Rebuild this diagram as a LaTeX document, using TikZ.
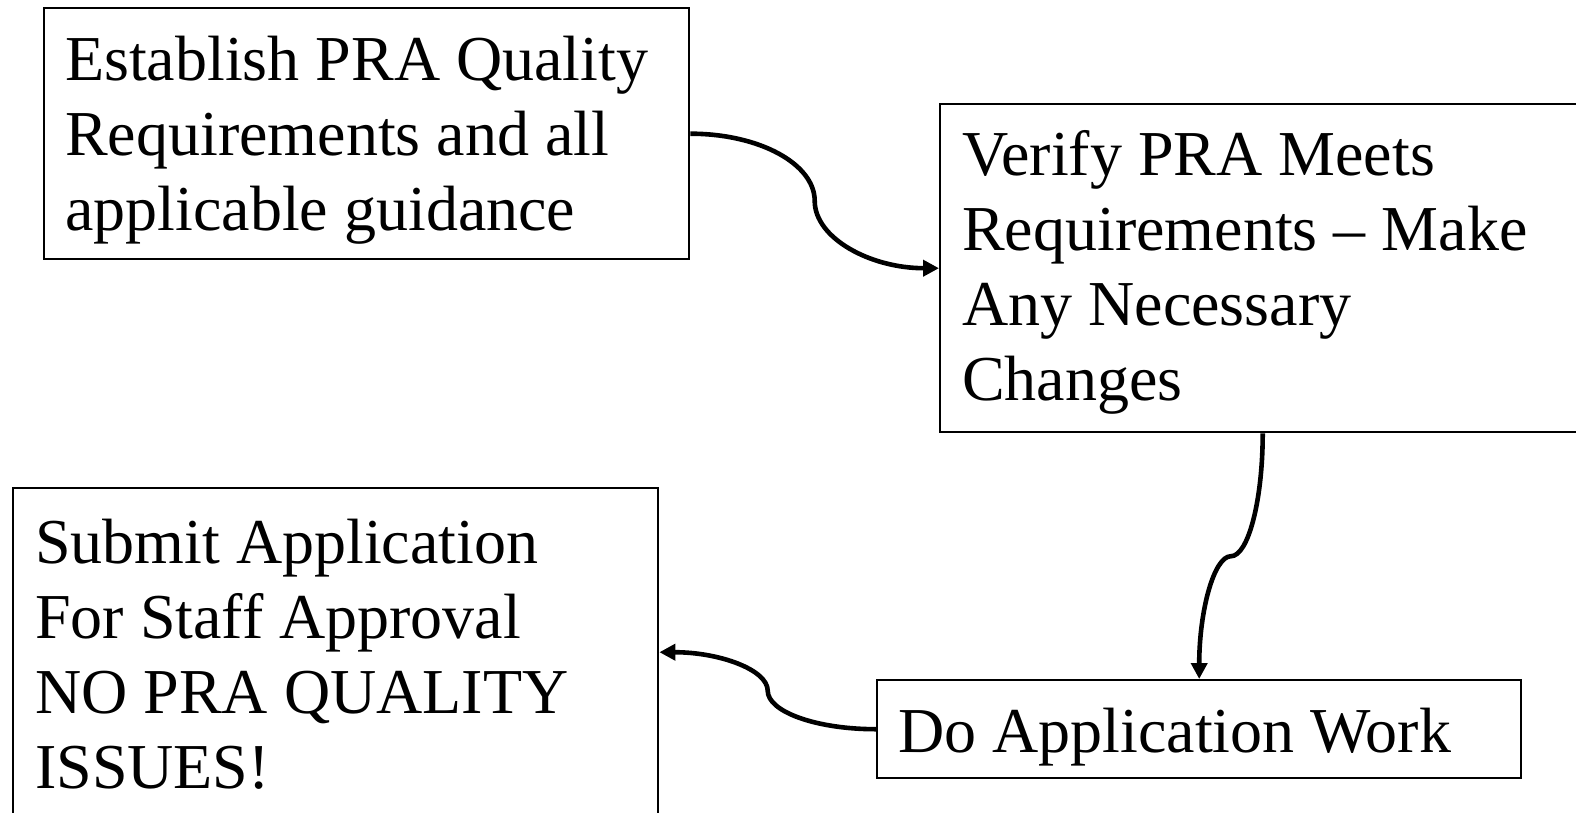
\documentclass[tikz,border=0pt]{standalone}
\usepackage{fontspec}
\setmainfont{Liberation Serif}
\usetikzlibrary{arrows.meta,calc}
\begin{document}
\begin{tikzpicture}[x=1pt,y=1pt,
  box/.style={draw,line width=2.4pt,minimum width=645pt,inner sep=0pt,anchor=north west},
  txt/.style={inner sep=0pt,anchor=base west,align=left,font=\fontsize{64}{75}\selectfont},
  conn/.style={line width=4.6pt,-{Triangle[length=16pt,width=16pt]}}]
\useasboundingbox (0,0) rectangle (1576,-812);
\fill[white] (0,0) rectangle (1576,-812);
\clip (0,0) rectangle (1576,-812);
% boxes
\node[box,minimum height=251pt] (A) at (43,-7) {};
\node[box,minimum height=328pt] (B) at (939,-103) {};
\node[box,minimum height=328pt] (C) at (12,-487) {};
\node[box,minimum height=98pt,minimum width=644pt] (D) at (876,-679) {};
% texts (base anchor = baseline of the last line)
\node[txt] (At) at ($(A.north west)+(22,-223)$) {Establish PRA Quality\\Requirements and all\\applicable guidance};
\node[txt] (Bt) at ($(B.north west)+(23,-297)$) {Verify PRA Meets\\Requirements – Make\\Any Necessary\\Changes};
\node[txt] (Ct) at ($(C.north west)+(23,-301)$) {Submit Application\\For Staff Approval\\NO PRA QUALITY\\ISSUES!};
\node[txt] (Dt) at ($(D.north west)+(22,-73)$) {Do Application Work};
% midpoints
\coordinate (m1) at ($(A.east)!0.5!(B.west)$);
\coordinate (m2) at ($(B.south)!0.5!(D.north)$);
\coordinate (m3) at ($(D.west)!0.5!(C.east)$);
% connectors
\draw[conn] (A.east) .. controls +(69,0) and +(0,37) .. (m1)
  .. controls +(0,-37) and +(-69,0) .. (B.west);
\draw[conn] (B.south) .. controls +(0,-68) and +(17,0) .. (m2)
  .. controls +(-17,0) and +(0,68) .. (D.north);
\draw[conn] (D.west) .. controls +(-60,0) and +(0,-21) .. (m3)
  .. controls +(0,21) and +(60,0) .. (C.east);
\end{tikzpicture}
\end{document}
